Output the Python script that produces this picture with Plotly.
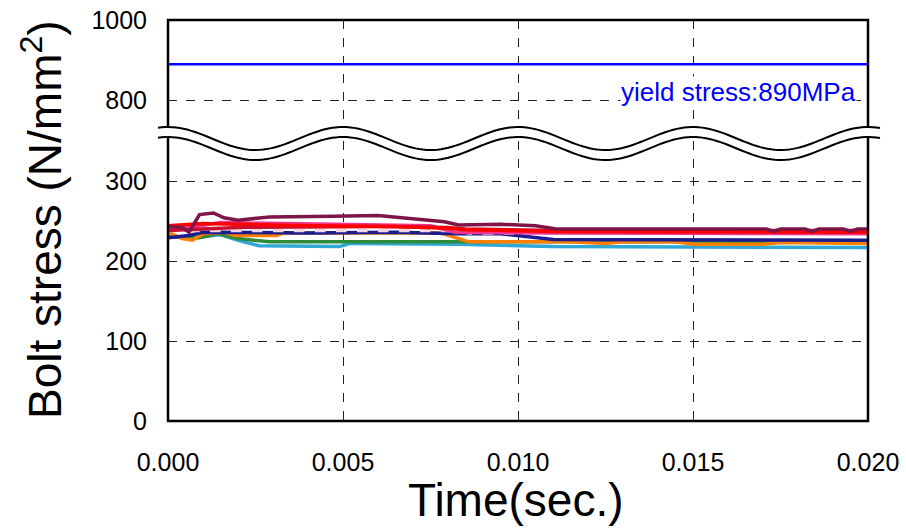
import numpy as np
import plotly.graph_objects as go

# ---------------- data ----------------
YIELD_STRESS = 890
yield_time = [0.0, 0.020]

maroon_t = [0, 0.0004, 0.0006, 0.0009, 0.0013, 0.0016, 0.002, 0.0029, 0.0047, 0.006, 0.0079, 0.0083,
            0.0095, 0.0105, 0.0111, 0.0171, 0.0173, 0.0175, 0.0182, 0.0184, 0.0186, 0.0193, 0.0195, 0.0197, 0.020]
maroon_v = [243, 242, 236, 258, 260, 254, 251, 255, 256, 257, 249, 245,
            246, 244, 240, 240, 237, 240, 240, 237, 240, 240, 237, 240, 240]

red_t = [0, 0.001, 0.002, 0.004, 0.0065, 0.008, 0.0085, 0.011, 0.020]
red_v = [244, 247, 246, 244, 243, 241, 239, 237, 236]

crimson_t = [0, 0.002, 0.006, 0.008, 0.0085, 0.011, 0.020]
crimson_v = [238, 242, 243, 242, 240, 238, 238]

pink_t = [0, 0.0008, 0.0015, 0.003, 0.005, 0.0075, 0.0082, 0.011, 0.020]
pink_v = [240, 243, 248, 247, 246, 244, 236, 235, 234]

lightpink_t = [0, 0.0083, 0.0086, 0.020]
lightpink_v = [238, 238, 235, 235]

navy_t = [0, 0.0006, 0.001, 0.004, 0.0065, 0.0083, 0.0095, 0.0105, 0.011, 0.020]
navy_v = [229, 232, 236, 235, 236, 234, 234, 230, 227, 226]

orange_t = [0, 0.0004, 0.0007, 0.0010, 0.0016, 0.0019, 0.0031, 0.0033, 0.0078, 0.0083, 0.0086,
            0.0115, 0.0125, 0.013, 0.0145, 0.015, 0.017, 0.0175, 0.020]
orange_v = [236, 228, 226, 234, 236, 232, 232, 235, 235, 228, 224,
            224, 222, 224, 224, 221, 221, 223, 222]

green_t = [0, 0.0009, 0.0014, 0.002, 0.0029, 0.0083, 0.011, 0.020]
green_v = [230, 229, 234, 228, 224, 224, 223, 224]

cyan_t = [0, 0.0008, 0.0015, 0.002, 0.0026, 0.0049, 0.0052, 0.0083, 0.011, 0.020]
cyan_v = [230, 229, 233, 226, 219, 218, 222, 221, 218, 217]

x_ticks = [0.000, 0.005, 0.010, 0.015, 0.020]
x_ticktext = ["0.000", "0.005", "0.010", "0.015", "0.020"]
y_low_ticks = [0, 100, 200, 300]
y_high_ticks = [800, 1000]

series = [
    ("cyan", cyan_t, cyan_v, "#2FA8D8", None),
    ("green", green_t, green_v, "#2E8B3A", None),
    ("orange", orange_t, orange_v, "#FF8000", None),
    ("navy", navy_t, navy_v, "#1C1C8E", None),
    ("lightpink", lightpink_t, lightpink_v, "#F6D3E2", "dash"),
    ("pink", pink_t, pink_v, "#F0358F", None),
    ("crimson", crimson_t, crimson_v, "#C8102E", None),
    ("red", red_t, red_v, "#FF0000", None),
    ("maroon", maroon_t, maroon_v, "#7E1548", None),
]

FONT = "Liberation Sans, Arial, sans-serif"

# ---------------- figure ----------------
W, H = 906, 529
L, R, T, B = 168, 38, 20, 108
plot_w = W - L - R
plot_h = H - T - B
low_span = 350.0
split = (low_span * 0.8) / plot_h  # 80 px per 100 units in lower part

fig = go.Figure()
for name, t, v, c, dash in series:
    fig.add_trace(go.Scatter(x=t, y=v, mode="lines", name=name,
                             line=dict(color=c, width=3.5, dash=dash),
                             xaxis="x", yaxis="y", showlegend=False))

fig.add_trace(go.Scatter(x=yield_time, y=[YIELD_STRESS] * 2, mode="lines",
                         line=dict(color="#0000FF", width=2.5),
                         xaxis="x2", yaxis="y2", showlegend=False))

grid = dict(showgrid=True, gridcolor="#222222", gridwidth=1, griddash="dash", zeroline=False)

fig.update_layout(
    width=W, height=H,
    margin=dict(l=L, r=R, t=T, b=B, autoexpand=False),
    paper_bgcolor="white", plot_bgcolor="white",
    font=dict(family=FONT, color="black"),
    xaxis=dict(range=[0, 0.020], tickvals=x_ticks, ticktext=x_ticktext,
               tickfont=dict(size=25, family=FONT), ticks="", ticklabelstandoff=24,
               anchor="y", domain=[0, 1], **grid),
    xaxis2=dict(range=[0, 0.020], tickvals=x_ticks, showticklabels=False, ticks="",
                anchor="y2", matches="x", domain=[0, 1], **grid),
    yaxis=dict(range=[0, low_span], tickvals=y_low_ticks, tickfont=dict(size=25, family=FONT),
               ticks="", ticklabelstandoff=20, domain=[0, split], anchor="x", **grid),
    yaxis2=dict(range=[700, 1000], tickvals=y_high_ticks, tickfont=dict(size=25, family=FONT),
                ticks="", ticklabelstandoff=20, domain=[split, 1], anchor="x2", **grid),
)

# frame
fig.add_shape(type="rect", xref="paper", yref="paper", x0=0, x1=1, y0=0, y1=1,
              line=dict(color="black", width=2.5), fillcolor="rgba(0,0,0,0)", layer="above")

# break wave (decoration)
def px2paper(xp, yp):
    return (xp - L) / plot_w, (T + plot_h - yp) / plot_h

xs = np.linspace(158, 880, 200)
period = 175.0
up = 138.5 - 11.5 * np.cos(2 * np.pi * (xs - 343) / period)
lo = 148.5 - 11.5 * np.cos(2 * np.pi * (xs - 343) / period)

def path_of(xa, ya, close=False):
    pts = [px2paper(a, b) for a, b in zip(xa, ya)]
    s = "M " + " L ".join(f"{p[0]:.5f},{p[1]:.5f}" for p in pts)
    return s + (" Z" if close else "")

band = path_of(np.concatenate([xs, xs[::-1]]), np.concatenate([up - 1, (lo + 1)[::-1]]), close=True)
fig.add_shape(type="path", xref="paper", yref="paper", path=band,
              fillcolor="white", line=dict(width=0), layer="above")
for yy in (up, lo):
    fig.add_shape(type="path", xref="paper", yref="paper", path=path_of(xs, yy),
                  line=dict(color="black", width=2), layer="above")

# annotations
fig.add_annotation(text="yield stress:890MPa", xref="paper", yref="paper",
                   x=(857 - L) / plot_w, y=(T + plot_h - 92) / plot_h,
                   xanchor="right", yanchor="middle", showarrow=False,
                   font=dict(size=26, color="#0000FF", family=FONT),
                   bgcolor="white", borderpad=0)
fig.add_annotation(text="Time(sec.)", xref="paper", yref="paper",
                   x=(516 - L) / plot_w, y=(T + plot_h - 500) / plot_h,
                   xanchor="center", yanchor="middle", showarrow=False,
                   font=dict(size=46, family=FONT))
fig.add_annotation(text="Bolt stress (N/mm<sup>2</sup>)", xref="paper", yref="paper",
                   x=(42 - L) / plot_w, y=(T + plot_h - 220) / plot_h,
                   xanchor="center", yanchor="middle", showarrow=False, textangle=-90,
                   font=dict(size=46, family=FONT))

fig.write_html("out.html")
